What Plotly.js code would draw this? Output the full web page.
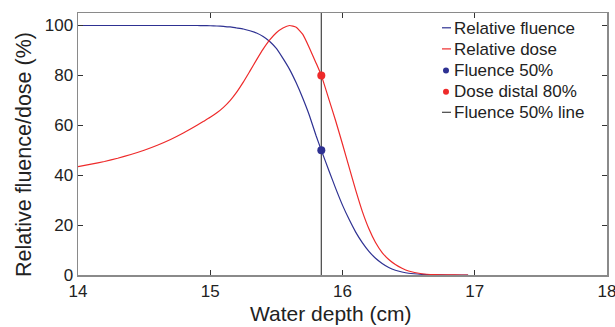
<!DOCTYPE html>
<html>
<head>
<meta charset="utf-8">
<script src="https://cdn.plot.ly/plotly-3.0.1.min.js"></script>
<style>html,body{margin:0;padding:0;background:#fff;}#chart{width:615px;height:327px;}</style>
</head>
<body>
<div id="chart"></div>
<script>
const depth = [14.0, 14.1, 14.2, 14.3, 14.4, 14.5, 14.6, 14.7, 14.8, 14.9, 14.95, 15.0, 15.05, 15.1, 15.15, 15.2, 15.25, 15.3, 15.35, 15.4, 15.45, 15.5, 15.55, 15.6, 15.65, 15.7, 15.75, 15.8, 15.84, 15.9, 15.95, 16.0, 16.05, 16.1, 16.15, 16.2, 16.25, 16.3, 16.35, 16.4, 16.45, 16.5, 16.6, 16.7, 16.8, 16.9, 16.95];
const fluence = [100, 100, 100, 100, 100, 100, 100, 100, 100, 100, 99.95, 99.9, 99.8, 99.6, 99.4, 99.0, 98.6, 97.9, 97.0, 95.6, 93.6, 90.8, 86.8, 82.4, 77.0, 70.8, 63.9, 55.9, 50, 41.5, 34.5, 28.0, 22.3, 17.2, 13.0, 9.5, 6.7, 4.6, 3.0, 1.9, 1.2, 0.7, 0.25, 0.07, 0.01, 0, 0];
const dose = [43.4, 44.4, 45.5, 46.8, 48.3, 50.0, 52.0, 54.3, 57.0, 60.0, 61.6, 63.2, 65.0, 67.2, 69.9, 73.3, 77.3, 81.7, 86.2, 90.5, 94.2, 97.1, 99.0, 100, 99.3, 96.4, 91.0, 85.0, 80, 70.0, 61.5, 52.5, 43.2, 34.0, 25.5, 18.5, 13.0, 9.0, 6.2, 4.2, 2.7, 1.6, 0.5, 0.15, 0.03, 0, 0];
const fluence50Depth = [15.84];
const fluence50Value = [50];
const dose80Depth = [15.84];
const dose80Value = [80];
const lineDepth = [15.84, 15.84];
const lineValue = [0, 105];
const xTicks = [14, 15, 16, 17, 18];
const yTicks = [0, 20, 40, 60, 80, 100];
const legendNames = ['Relative fluence', 'Relative dose', 'Fluence 50%', 'Dose distal 80%', 'Fluence 50% line'];

const blue = '#2e3192';
const red = '#ee2a2a';
const dark = '#444444';
const FONT = 'Liberation Sans, Arial, sans-serif';

const traces = [
  {x: depth, y: fluence, type: 'scatter', mode: 'lines', name: legendNames[0], line: {color: blue, width: 1.2, shape: 'spline', smoothing: 0.4}},
  {x: depth, y: dose, type: 'scatter', mode: 'lines', name: legendNames[1], line: {color: red, width: 1.2, shape: 'spline', smoothing: 0.4}},
  {x: lineDepth, y: lineValue, type: 'scatter', mode: 'lines', name: legendNames[4], line: {color: dark, width: 1.2}},
  {x: fluence50Depth, y: fluence50Value, type: 'scatter', mode: 'markers', name: legendNames[2], marker: {color: blue, size: 8}},
  {x: dose80Depth, y: dose80Value, type: 'scatter', mode: 'markers', name: legendNames[3], marker: {color: red, size: 8}}
];

// plot area in pixels: left 78, right 607, top 13, bottom 275
const L = 78, R = 607, T = 13, B = 275;
const px2x = p => (p - L) / (R - L);
const px2y = p => (B - p) / (B - T);

const rowY = [28.3, 49.4, 70.6, 91.7, 112.8];
const legendColors = [blue, red, blue, red, dark];
const legendKinds = ['line', 'line', 'dot', 'dot', 'line'];

const annotations = legendNames.map((n, i) => ({
  text: n, xref: 'paper', yref: 'paper', x: px2x(452), y: px2y(rowY[i]),
  xanchor: 'left', yanchor: 'middle', showarrow: false,
  font: {family: FONT, size: 17, color: '#222'}
}));
annotations.push({
  text: 'Water depth (cm)', xref: 'paper', yref: 'paper', x: px2x(330), y: px2y(313.5),
  xanchor: 'center', yanchor: 'middle', showarrow: false,
  font: {family: FONT, size: 21, color: '#222'}
});
annotations.push({
  text: 'Relative fluence/dose (%)', xref: 'paper', yref: 'paper', x: px2x(24), y: px2y(155),
  xanchor: 'center', yanchor: 'middle', showarrow: false, textangle: -90,
  font: {family: FONT, size: 21.5, color: '#222'}
});

const shapes = [];
legendKinds.forEach((k, i) => {
  if (k === 'line') {
    shapes.push({type: 'line', xref: 'paper', yref: 'paper', x0: px2x(442), x1: px2x(451), y0: px2y(rowY[i] - 0.5), y1: px2y(rowY[i] - 0.5),
      line: {color: legendColors[i], width: 1.2}});
  } else {
    const r = 3;
    shapes.push({type: 'circle', xref: 'paper', yref: 'paper', x0: px2x(446 - r), x1: px2x(446 + r), y0: px2y(rowY[i] + r), y1: px2y(rowY[i] - r),
      fillcolor: legendColors[i], line: {color: legendColors[i], width: 0}});
  }
});

const axisCommon = {
  showline: true, linecolor: '#8a8a8a', linewidth: 1.5, mirror: 'ticks',
  ticks: 'inside', ticklen: 5, tickcolor: '#333', tickwidth: 1.2,
  showgrid: false, zeroline: false, ticklabeloverflow: 'allow',
  tickfont: {family: FONT, size: 17, color: '#222'}
};

const layout = {
  width: 615, height: 327,
  margin: {l: L, r: 615 - R, t: T, b: 327 - B},
  paper_bgcolor: '#fff', plot_bgcolor: '#fff',
  font: {family: FONT, color: '#222'},
  showlegend: false,
  xaxis: Object.assign({}, axisCommon, {range: [14, 18.0005], tickvals: xTicks, ticktext: xTicks.map(String)}),
  yaxis: Object.assign({}, axisCommon, {range: [0, 105], tickvals: yTicks, ticktext: yTicks.map(String)}),
  annotations: annotations,
  shapes: shapes
};

Plotly.newPlot('chart', traces, layout, {displayModeBar: false, staticPlot: true});
</script>
</body>
</html>
